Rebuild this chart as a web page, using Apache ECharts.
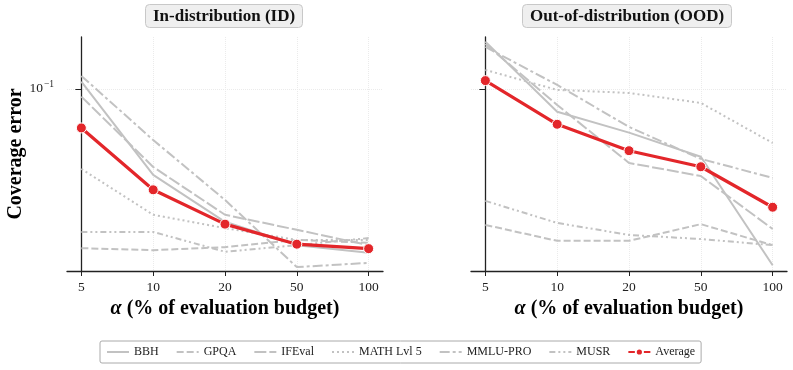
<!DOCTYPE html>
<html lang="en">
<head>
<meta charset="UTF-8">
<title>Coverage error</title>
<style>
    html, body { margin: 0; padding: 0; background: #fff; }
    #chart { width: 793px; height: 370px; }
</style>
</head>
<body>
<div id="chart"></div>
<script src="https://cdn.jsdelivr.net/npm/echarts@6/dist/echarts.min.js"></script>
<script>
    // alpha (% of evaluation budget)
    var alphaLabels = ['5', '10', '20', '50', '100'];
    var benchNames = ['BBH', 'GPQA', 'IFEval', 'MATH Lvl 5', 'MMLU-PRO', 'MUSR'];

    // In-distribution coverage error
    var idBBH   = [0.1079, 0.0407, 0.0249, 0.0195, 0.0180];
    var idGPQA  = [0.0189, 0.0185, 0.0191, 0.0206, 0.0200];
    var idIFEval = [0.0923, 0.0442, 0.0268, 0.0229, 0.0195];
    var idMATH  = [0.0433, 0.0268, 0.0233, 0.0206, 0.0206];
    var idMMLU  = [0.1146, 0.0586, 0.0313, 0.0155, 0.0162];
    var idMUSR  = [0.0224, 0.0224, 0.0182, 0.0195, 0.0210];
    var idAvg   = [0.0665, 0.0348, 0.0243, 0.0197, 0.0188];

    // Out-of-distribution coverage error
    var oodBBH   = [0.1641, 0.0788, 0.0633, 0.0492, 0.0158];
    var oodGPQA  = [0.0241, 0.0204, 0.0204, 0.0243, 0.0195];
    var oodIFEval = [0.1601, 0.0846, 0.0461, 0.0402, 0.0231];
    var oodMATH  = [0.1220, 0.0990, 0.0959, 0.0864, 0.0568];
    var oodMMLU  = [0.1552, 0.1043, 0.0672, 0.0481, 0.0394];
    var oodMUSR  = [0.0310, 0.0246, 0.0217, 0.0208, 0.0195];
    var oodAvg   = [0.1091, 0.0691, 0.0524, 0.0443, 0.0290];

    var yMin = 0.01488, yMax = 0.1722;

    var serif = 'Liberation Serif';
    var gray = '#c2c2c2';
    var red = '#e3262a';
    var dashes = {
        'BBH': 'solid',
        'GPQA': [7, 3],
        'IFEval': [12, 3],
        'MATH Lvl 5': [2, 3],
        'MMLU-PRO': [10, 3, 3, 3],
        'MUSR': [6, 3, 2, 3, 2, 3]
    };
    var panels = [
        [idBBH, idGPQA, idIFEval, idMATH, idMMLU, idMUSR, idAvg],
        [oodBBH, oodGPQA, oodIFEval, oodMATH, oodMMLU, oodMUSR, oodAvg]
    ];

    function pairs(arr) {
        return arr.map(function (v, i) { return [i, v]; });
    }

    var series = [];
    panels.forEach(function (p, k) {
        benchNames.forEach(function (name, j) {
            series.push({
                name: name, type: 'line', xAxisIndex: k, yAxisIndex: k,
                data: pairs(p[j]), symbol: 'none', silent: true,
                lineStyle: { color: gray, width: 2, type: dashes[name] },
                itemStyle: { color: gray },
                z: 2
            });
        });
        series.push({
            name: 'Average', type: 'line', xAxisIndex: k, yAxisIndex: k,
            data: pairs(p[6]), symbol: 'circle', symbolSize: 10,
            lineStyle: { color: red, width: 3.2 },
            itemStyle: { color: red, borderColor: '#fff', borderWidth: 1 },
            z: 5
        });
    });

    var tickIdx = alphaLabels.map(function (_, i) { return i; });

    function xAxis(k) {
        return {
            gridIndex: k, type: 'value', min: -0.2, max: 4.2,
            name: '{i|α} (% of evaluation budget)',
            nameLocation: 'middle', nameGap: 26,
            nameTextStyle: {
                fontFamily: serif, fontSize: 20, fontWeight: 'bold', color: '#000',
                rich: { i: { fontFamily: serif, fontSize: 20, fontStyle: 'italic', color: '#000' } }
            },
            axisLine: { lineStyle: { color: '#222', width: 1.3 } },
            axisTick: { customValues: tickIdx, length: 5, lineStyle: { color: '#222', width: 1 } },
            axisLabel: {
                customValues: tickIdx, margin: 9,
                formatter: function (v) { return alphaLabels[Math.round(v)]; },
                fontFamily: serif, fontSize: 13.5, color: '#222'
            },
            splitLine: { show: true, lineStyle: { color: '#ebebeb', type: 'dotted', width: 1 } }
        };
    }

    function yAxis(k) {
        return {
            gridIndex: k, type: 'log', logBase: 10, min: yMin, max: yMax,
            name: k === 0 ? 'Coverage error' : '',
            nameLocation: 'middle', nameGap: 39, nameRotate: 90,
            nameTextStyle: { fontFamily: serif, fontSize: 20, fontWeight: 'bold', color: '#000' },
            axisLine: { show: true, lineStyle: { color: '#222', width: 1.3 } },
            axisTick: { customValues: [0.1], length: 6, lineStyle: { color: '#222', width: 1 } },
            axisLabel: {
                show: k === 0, customValues: [0.1], margin: 13,
                formatter: function () { return '{b|10}{s|−1}'; },
                rich: {
                    b: { fontFamily: serif, fontSize: 13.5, color: '#222' },
                    s: { fontFamily: serif, fontSize: 9.5, color: '#222', padding: [0, 0, 8, 1] }
                }
            },
            splitLine: { show: true, lineStyle: { color: '#ebebeb', type: 'dotted', width: 1 } }
        };
    }

    var titleStyle = { fontFamily: serif, fontSize: 17, fontWeight: 'bold', color: '#111' };

    var legendItems = benchNames.map(function (n) {
        return { name: n, itemStyle: { opacity: 0 } };
    }).concat([{ name: 'Average' }]);

    var chart = echarts.init(document.getElementById('chart'), null, { renderer: 'canvas' });
    chart.setOption({
        animation: false,
        backgroundColor: '#fff',
        title: [
            { text: 'In-distribution (ID)', left: 145, top: 4, padding: [4, 8, 3, 8],
              backgroundColor: '#efefef', borderColor: '#c8c8c8', borderWidth: 1, borderRadius: 4,
              textStyle: titleStyle },
            { text: 'Out-of-distribution (OOD)', left: 522, top: 4, padding: [4, 8, 3, 8],
              backgroundColor: '#efefef', borderColor: '#c8c8c8', borderWidth: 1, borderRadius: 4,
              textStyle: titleStyle }
        ],
        legend: {
            data: legendItems,
            left: 100, top: 341,
            padding: [5, 6],
            itemWidth: 22, itemHeight: 9, itemGap: 17,
            borderColor: '#aaa', borderWidth: 1, borderRadius: 2,
            textStyle: { fontFamily: serif, fontSize: 12, color: '#222' }
        },
        grid: [
            { left: 67, top: 37, width: 316, height: 234 },
            { left: 471, top: 37, width: 316, height: 234 }
        ],
        xAxis: [xAxis(0), xAxis(1)],
        yAxis: [yAxis(0), yAxis(1)],
        series: series
    });
</script>
</body>
</html>
